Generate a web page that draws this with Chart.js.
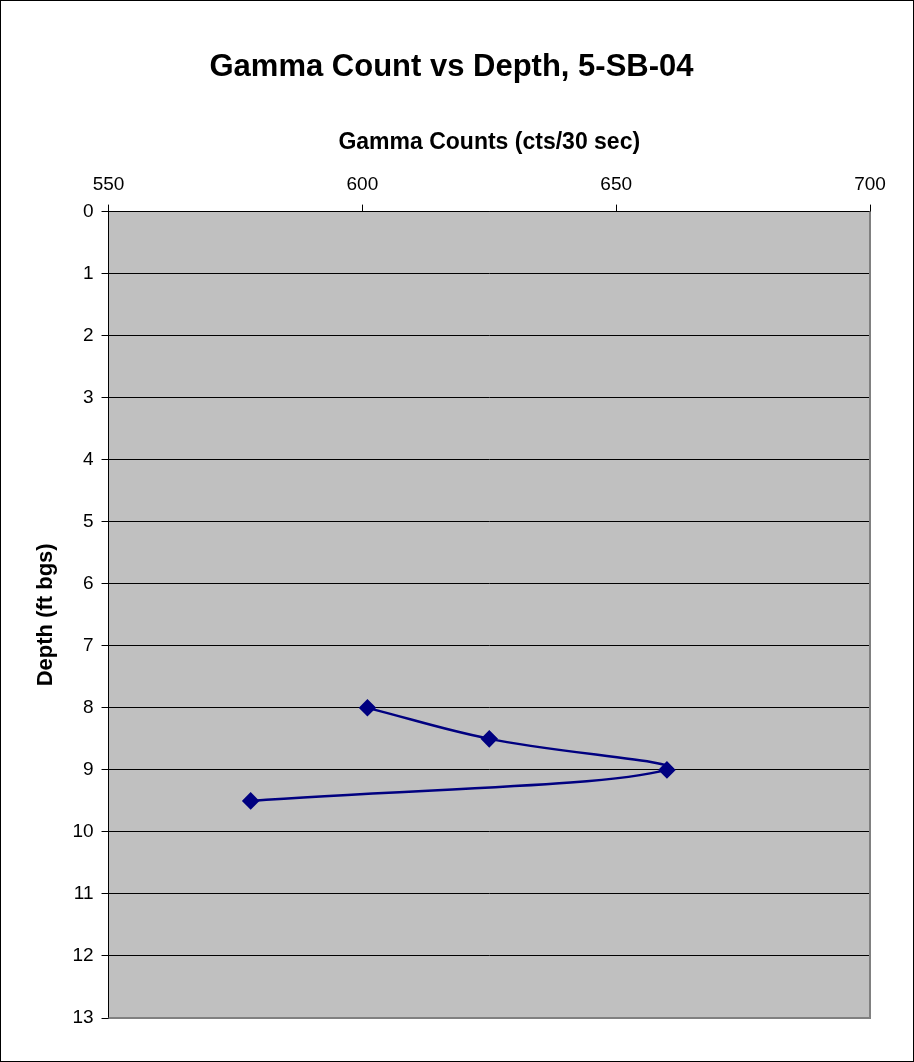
<!DOCTYPE html>
<html>
<head>
<meta charset="utf-8">
<script src="https://cdn.jsdelivr.net/npm/chart.js@4"></script>
<style>
  html, body { margin: 0; padding: 0; background: #fff; }
  #wrap { width: 912px; height: 1060px; border: 1px solid #000; position: relative; }
  canvas { display: block; }
</style>
</head>
<body>
<div id="wrap"><canvas id="gammaChart" width="912" height="1060"></canvas></div>
<script>
// Gamma log readings for boring 5-SB-04
const depthFt = [8, 8.5, 9, 9.5];
const gammaCounts = [601, 625, 660, 578];
const xTicks = [550, 600, 650, 700];
const yTicks = [0, 1, 2, 3, 4, 5, 6, 7, 8, 9, 10, 11, 12, 13];

const FONT = 'Liberation Sans, Arial, sans-serif';

// Gray plot area + right/bottom frame like the old Excel chart
const plotBackground = {
    id: 'plotBackground',
    beforeDraw(chart) {
        const { ctx, chartArea: a } = chart;
        ctx.save();
        ctx.fillStyle = '#c0c0c0';
        ctx.fillRect(a.left, a.top, a.right - a.left, a.bottom - a.top);
        ctx.restore();
    },
    beforeDatasetsDraw(chart) {
        const { ctx, chartArea: a } = chart;
        ctx.save();
        ctx.strokeStyle = '#808080';
        ctx.lineWidth = 2;
        ctx.beginPath();
        ctx.moveTo(a.right, a.top);
        ctx.lineTo(a.right, a.bottom);
        ctx.lineTo(a.left, a.bottom);
        ctx.stroke();
        ctx.restore();
    }
};

const ctx = document.getElementById('gammaChart').getContext('2d');
new Chart(ctx, {
    type: 'scatter',
    data: {
        datasets: [{
            data: gammaCounts.map((c, i) => ({ x: c, y: depthFt[i] })),
            showLine: true,
            tension: 0.4,
            borderColor: '#000080',
            borderWidth: 2.5,
            backgroundColor: '#000080',
            pointStyle: 'rectRot',
            pointRadius: 7,
            pointHoverRadius: 7
        }]
    },
    plugins: [plotBackground],
    options: {
        responsive: false,
        animation: false,
        layout: { padding: { left: 32, right: 43, top: 48, bottom: 43 } },
        plugins: {
            legend: { display: false },
            tooltip: { enabled: false },
            title: {
                display: true,
                text: 'Gamma Count vs Depth, 5-SB-04',
                color: '#000',
                font: { family: FONT, size: 31, weight: 'bold' },
                padding: { top: 0, bottom: 43 }
            }
        },
        scales: {
            x: {
                type: 'linear',
                position: 'top',
                min: 550,
                max: 700,
                afterBuildTicks: axis => { axis.ticks = xTicks.map(v => ({ value: v })); },
                ticks: {
                    color: '#000',
                    padding: 8,
                    font: { family: FONT, size: 19 }
                },
                grid: { drawOnChartArea: false, drawTicks: true, tickLength: 7, color: '#000' },
                border: { display: true, color: '#000', width: 1 },
                title: {
                    display: true,
                    text: 'Gamma Counts (cts/30 sec)',
                    color: '#000',
                    font: { family: FONT, size: 23, weight: 'bold' },
                    padding: { top: 0, bottom: 9 }
                }
            },
            y: {
                type: 'linear',
                reverse: true,
                min: 0,
                max: 13,
                afterBuildTicks: axis => { axis.ticks = yTicks.map(v => ({ value: v })); },
                ticks: {
                    color: '#000',
                    padding: 8,
                    font: { family: FONT, size: 19 }
                },
                grid: { color: '#000', lineWidth: 1, drawTicks: true, tickLength: 7 },
                border: { display: true, color: '#000', width: 1 },
                title: {
                    display: true,
                    text: 'Depth (ft bgs)',
                    color: '#000',
                    font: { family: FONT, size: 22, weight: 'bold' },
                    padding: { top: 0, bottom: 5 }
                }
            }
        }
    }
});
</script>
</body>
</html>
